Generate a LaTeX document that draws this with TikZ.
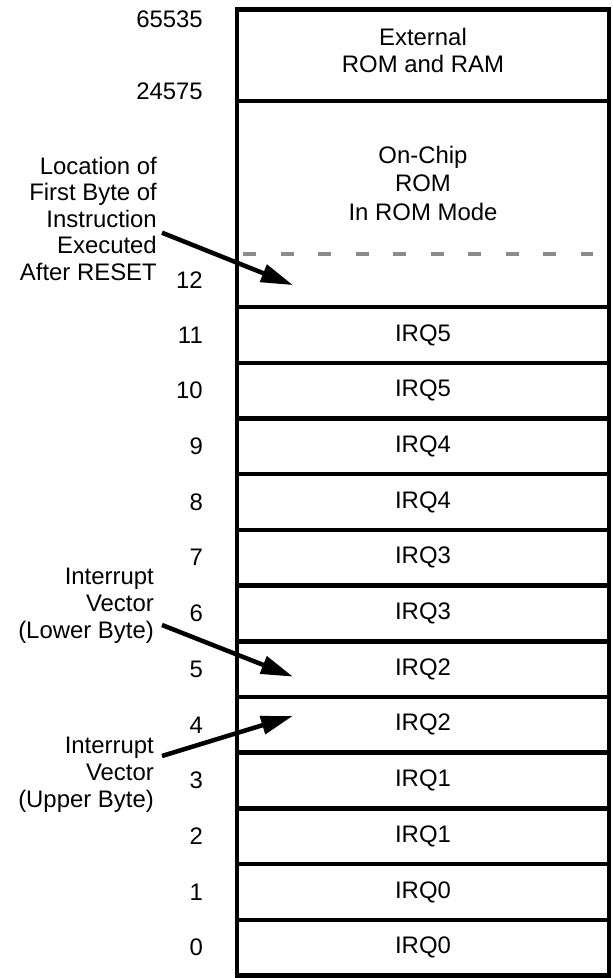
\documentclass[tikz,border=0pt]{standalone}
\usepackage{fontspec}
\setmainfont{Liberation Sans}
\usepackage{xcolor}
\usepackage{tikz}
\usetikzlibrary{positioning, arrows.meta}
\definecolor{dashgray}{RGB}{140,140,140}
\tikzstyle{cell} = [rectangle, minimum width=372bp, minimum height=55.7bp, align=center, draw=black, line width=4.5bp, outer sep=0pt]
\tikzstyle{addr} = [inner sep=0pt]
\tikzstyle{note} = [align=right, inner sep=0pt, anchor=east]
\tikzstyle{pointer} = [line width=4.5bp, -{Triangle[length=32bp,width=18bp]}]
\tikzstyle{boundary} = [draw=dashgray, line width=4.5bp, dash pattern=on 13bp off 24.5bp]

\begin{document}
\begin{tikzpicture}[x=1bp, y=1bp, node distance=0bp, font=\fontsize{24}{27}\selectfont]
   \useasboundingbox (0,0) rectangle (613,978);
   % memory cells
   \node (ext) [cell, minimum height=91.5bp, text depth=9bp] at (423,922.75) {External\\ROM and RAM};
   \node (chip) [cell, minimum height=206.1bp, below=of ext] {};
   \node (r11) [cell, below=of chip] {IRQ5};
   \node (r10) [cell, below=of r11] {IRQ5};
   \node (r9) [cell, below=of r10] {IRQ4};
   \node (r8) [cell, below=of r9] {IRQ4};
   \node (r7) [cell, below=of r8] {IRQ3};
   \node (r6) [cell, below=of r7] {IRQ3};
   \node (r5) [cell, below=of r6] {IRQ2};
   \node (r4) [cell, below=of r5] {IRQ2};
   \node (r3) [cell, below=of r4] {IRQ1};
   \node (r2) [cell, below=of r3] {IRQ1};
   \node (r1) [cell, below=of r2] {IRQ0};
   \node (r0) [cell, below=of r1] {IRQ0};
   \node (romtxt) [below=45bp of chip.north, align=center, inner sep=0pt, font=\fontsize{24}{28.5}\selectfont] {On-Chip\\ROM\\In ROM Mode};
   \draw [boundary] ([xshift=6bp,yshift=53bp]chip.south west) -- ([xshift=-16bp,yshift=53bp]chip.south east);
   % addresses
   \node (atop) [addr, below left=1bp and 34bp of ext.north west] {65535};
   \node (amid) [addr, above left=1bp and 34bp of ext.south west] {24575};
   \coordinate (c12) at ([yshift=27bp]chip.south west);
   \node (a12) [addr, left=34bp of c12] {12};
   \node (a11) [addr, left=34bp of r11] {11};
   \node (a10) [addr, left=34bp of r10] {10};
   \node (a9) [addr, left=34bp of r9] {9};
   \node (a8) [addr, left=34bp of r8] {8};
   \node (a7) [addr, left=34bp of r7] {7};
   \node (a6) [addr, left=34bp of r6] {6};
   \node (a5) [addr, left=34bp of r5] {5};
   \node (a4) [addr, left=34bp of r4] {4};
   \node (a3) [addr, left=34bp of r3] {3};
   \node (a2) [addr, left=34bp of r2] {2};
   \node (a1) [addr, left=34bp of r1] {1};
   \node (a0) [addr, left=34bp of r0] {0};
   % notes and pointers
   \node (loc) [note, font=\fontsize{24}{26.5}\selectfont] at (157,759.3) {Location of\\First Byte of\\Instruction\\Executed\\After RESET};
   \node (lower) [note] at (154,372) {Interrupt\\Vector\\(Lower Byte)};
   \node (upper) [note] at (154,203) {Interrupt\\Vector\\(Upper Byte)};
   \coordinate (t12) at ([xshift=56bp,yshift=22bp]chip.south west);
   \coordinate (t5) at ([xshift=56bp,yshift=-7.5bp]r5.west);
   \coordinate (t4) at ([xshift=56bp,yshift=9bp]r4.west);
   \draw [pointer] ([shift={(5bp,-14bp)}]loc.east) -- (t12);
   \draw [pointer] ([shift={(8bp,-19bp)}]lower.east) -- (t5);
   \draw [pointer] ([shift={(8bp,19bp)}]upper.east) -- (t4);
\end{tikzpicture}
\end{document}
